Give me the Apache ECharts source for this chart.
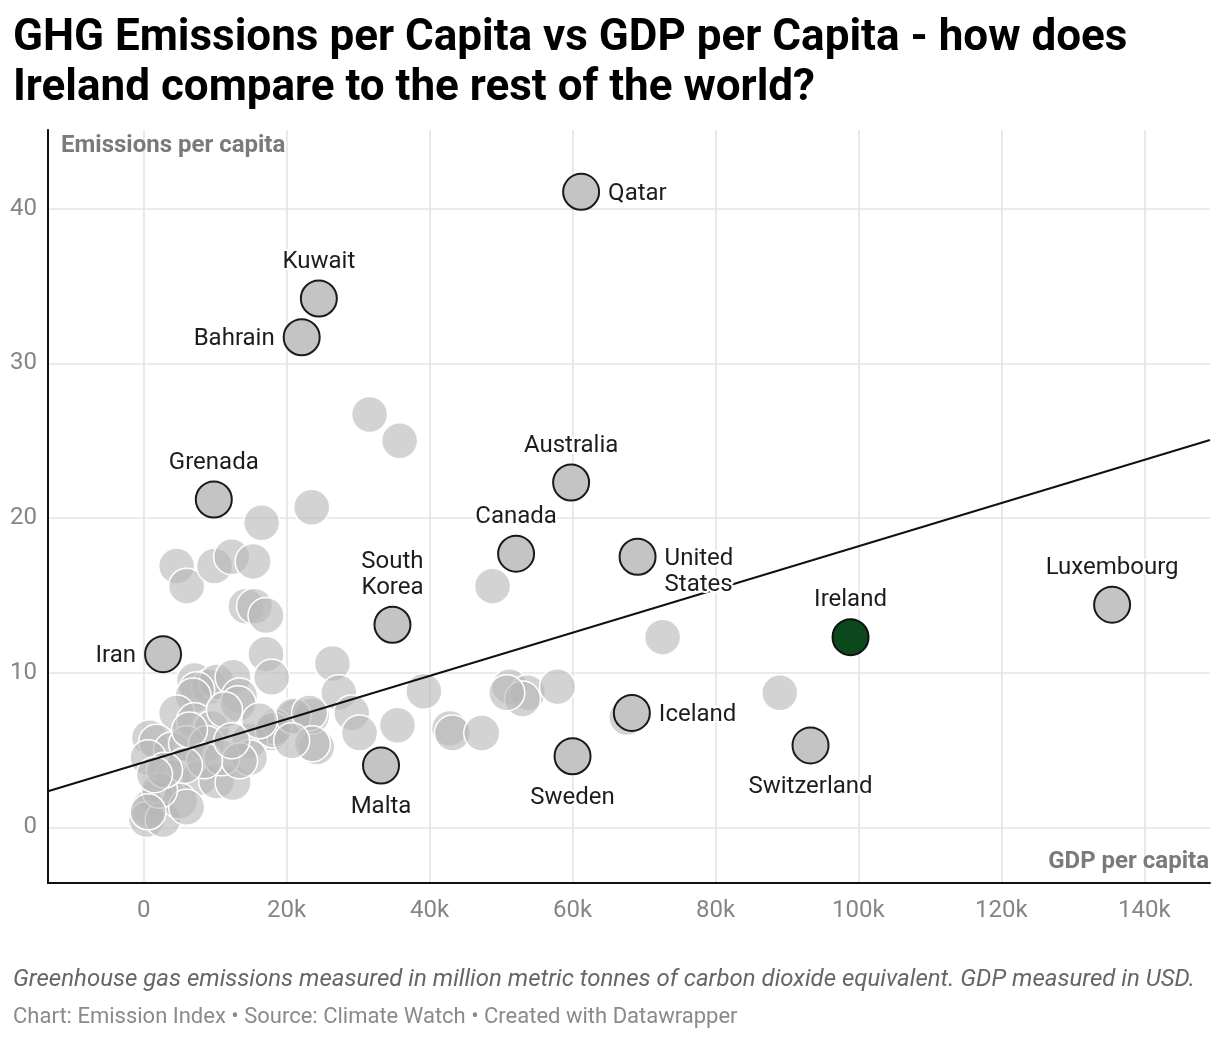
<!DOCTYPE html>
<html>
<head>
<meta charset="utf-8">
<script src="https://cdn.jsdelivr.net/npm/echarts@6/dist/echarts.min.js"></script>
<style>
  html, body { margin: 0; padding: 0; background: #fff; }
  #chart { width: 1220px; height: 1038px; }
</style>
</head>
<body>
<div id="chart"></div>
<script>
// GHG per capita vs GDP per capita.

// highlighted countries (GDP per capita in USD, emissions per capita)
const NAMES = ["Qatar", "Kuwait", "Bahrain", "Grenada", "Australia", "Canada", "United States",
  "South Korea", "Iran", "Luxembourg", "Ireland", "Iceland", "Sweden", "Switzerland", "Malta"];
const NAME_GDP = [61200, 24500, 22100, 9800, 59800, 52100, 69100,
  34800, 2700, 135500, 98900, 68300, 60000, 93300, 33200];
const NAME_EMIS = [41.1, 34.2, 31.7, 21.2, 22.3, 17.7, 17.5,
  13.1, 11.2, 14.4, 12.3, 7.4, 4.6, 5.3, 4.0];

// all the other countries (unlabelled grey dots)
const OTHER_GDP = [31600, 35800, 23500, 16500, 4600, 6000, 9900, 12300, 15300, 14300,
  15500, 17100, 17100, 17900, 26400, 27300, 39200, 48800, 72600, 51200,
  53700, 53000, 50800, 57900, 89000, 67600, 42800, 43200, 47300, 35500,
  29100, 30200, 24200, 21100, 23500, 17900, 18300, 7100, 9200, 10200,
  12500, 7400, 6900, 13400, 13200, 4600, 7100, 9500, 800, 1800,
  3900, 6000, 8800, 600, 14800, 18100, 20900, 23200, 23600, 4100,
  7800, 10200, 12500, 14800, 1800, 800, 400, 2700, 5000, 6000,
  2200, 10900, 13400, 8500, 5700, 2900, 11300, 16200, 12300, 6400,
  1500, 600, 20700];
const OTHER_EMIS = [26.7, 25.0, 20.7, 19.7, 16.9, 15.6, 16.9, 17.5, 17.2, 14.3,
  14.3, 13.7, 11.2, 9.7, 10.6, 8.7, 8.8, 15.6, 12.3, 9.1,
  8.7, 8.3, 8.7, 9.1, 8.7, 7.1, 6.4, 6.1, 6.1, 6.6,
  7.4, 6.1, 5.2, 7.1, 7.2, 6.1, 6.5, 9.5, 9.1, 9.4,
  9.7, 8.9, 8.5, 8.5, 8.0, 7.4, 6.9, 6.4, 5.8, 5.5,
  5.0, 5.4, 5.4, 4.5, 5.6, 6.3, 7.2, 7.4, 5.4, 3.2,
  3.2, 3.0, 2.9, 4.5, 1.9, 1.3, 0.5, 0.5, 1.7, 1.3,
  2.4, 4.5, 4.3, 4.3, 4.0, 3.7, 7.6, 6.9, 5.6, 6.3,
  3.4, 1.0, 5.6];

// trend line, end points at the edges of the plot
const TREND_GDP = [-13400, 149200];
const TREND_EMIS = [2.33, 25.05];

const X_TICKS = [0, 20000, 40000, 60000, 80000, 100000, 120000, 140000];
const Y_TICKS = [0, 10, 20, 30, 40];

const FONT = "Roboto, sans-serif";
const HIGHLIGHT = "Ireland";

// where each label sits relative to its dot
const LABEL_POS = {
  "Qatar": "right", "Kuwait": "top", "Bahrain": "left", "Grenada": "top", "Australia": "top",
  "Canada": "top", "United States": "right", "South Korea": "top", "Iran": "left",
  "Luxembourg": "top", "Ireland": "top", "Iceland": "right", "Sweden": "bottom",
  "Switzerland": "bottom", "Malta": "bottom",
};
const TWO_LINE = { "United States": "United\nStates", "South Korea": "South\nKorea" };

const chart = echarts.init(document.getElementById("chart"));

const named = NAMES.map((n, i) => {
  const pos = LABEL_POS[n];
  const item = {
    name: n, value: [NAME_GDP[i], NAME_EMIS[i]],
    label: { position: pos, distance: pos === "top" ? 5 : pos === "bottom" ? 10 : 8 },
  };
  if (pos === "left" || pos === "right") item.label.offset = [0, 2];
  if (n === "United States") item.label.offset = [0, 15];
  if (n === HIGHLIGHT) item.itemStyle = { color: "#0b481b", borderColor: "#111" };
  return item;
});

chart.setOption({
  animation: false,
  textStyle: { fontFamily: FONT },
  title: [
    {
      text: "GHG Emissions per Capita vs GDP per Capita - how does\nIreland compare to the rest of the world?",
      left: 8, top: 9,
      textStyle: { fontFamily: FONT, fontSize: 44, fontWeight: "bold", color: "#000", lineHeight: 50 },
    },
    {
      text: "Greenhouse gas emissions measured in million metric tonnes of carbon dioxide equivalent. GDP measured in USD.",
      left: 8, top: 963,
      textStyle: { fontFamily: FONT, fontSize: 24, fontStyle: "italic", fontWeight: "normal", color: "#666" },
    },
    {
      text: "Chart: Emission Index • Source: Climate Watch • Created with Datawrapper",
      left: 8, top: 1001,
      textStyle: { fontFamily: FONT, fontSize: 22, fontWeight: "normal", color: "#8a8a8a" },
    },
  ],
  grid: { left: 48, right: 10, top: 130, bottom: 155, containLabel: false, outerBoundsMode: "none" },
  xAxis: {
    type: "value", min: -13400, max: 149200,
    name: "GDP per capita", nameLocation: "end", nameGap: -1,
    nameTextStyle: { fontFamily: FONT, fontSize: 24, fontWeight: "bold", color: "#7a7a7a",
      align: "right", verticalAlign: "bottom", padding: [0, 0, 9, 0] },
    axisLine: { onZero: false, lineStyle: { color: "#111", width: 2 } },
    axisTick: { show: false, customValues: X_TICKS },
    axisLabel: { customValues: X_TICKS, margin: 16, fontSize: 24, color: "#858585", fontFamily: FONT,
      formatter: (v) => (v === 0 ? "0" : v / 1000 + "k") },
    splitLine: { show: true, lineStyle: { color: "#e4e4e4", width: 1.6 } },
  },
  yAxis: {
    type: "value", min: -3.6, max: 45.1,
    name: "Emissions per capita", nameLocation: "end", nameGap: -4,
    nameTextStyle: { fontFamily: FONT, fontSize: 24, fontWeight: "bold", color: "#7a7a7a",
      align: "left", verticalAlign: "top", padding: [0, 0, 0, 13] },
    axisLine: { show: true, onZero: false, lineStyle: { color: "#111", width: 2 } },
    axisTick: { show: false, customValues: Y_TICKS },
    axisLabel: { customValues: Y_TICKS, margin: 11, fontSize: 24, color: "#858585", fontFamily: FONT },
    splitLine: { show: true, lineStyle: { color: "#e4e4e4", width: 1.6 } },
  },
  series: [
    {
      type: "scatter", name: "others", z: 2, silent: true,
      symbolSize: 36,
      data: OTHER_GDP.map((g, i) => [g, OTHER_EMIS[i]]),
      itemStyle: { color: "rgba(184,184,184,0.62)", borderColor: "#fff", borderWidth: 1.5, opacity: 1 },
    },
    {
      type: "line", name: "trend", z: 3, silent: true, symbol: "none",
      data: TREND_GDP.map((g, i) => [g, TREND_EMIS[i]]),
      lineStyle: { color: "#111", width: 2 },
    },
    {
      type: "scatter", name: "countries", z: 4, silent: true,
      symbolSize: 36,
      data: named,
      itemStyle: { color: "#c4c4c4", borderColor: "#1a1a1a", borderWidth: 2, opacity: 1 },
      label: {
        show: true, fontFamily: FONT, fontSize: 24, color: "#1d1d1d", lineHeight: 26,
        textBorderColor: "#fff", textBorderWidth: 4,
        formatter: (p) => TWO_LINE[p.name] || p.name,
      },
    },
  ],
});
</script>
</body>
</html>
